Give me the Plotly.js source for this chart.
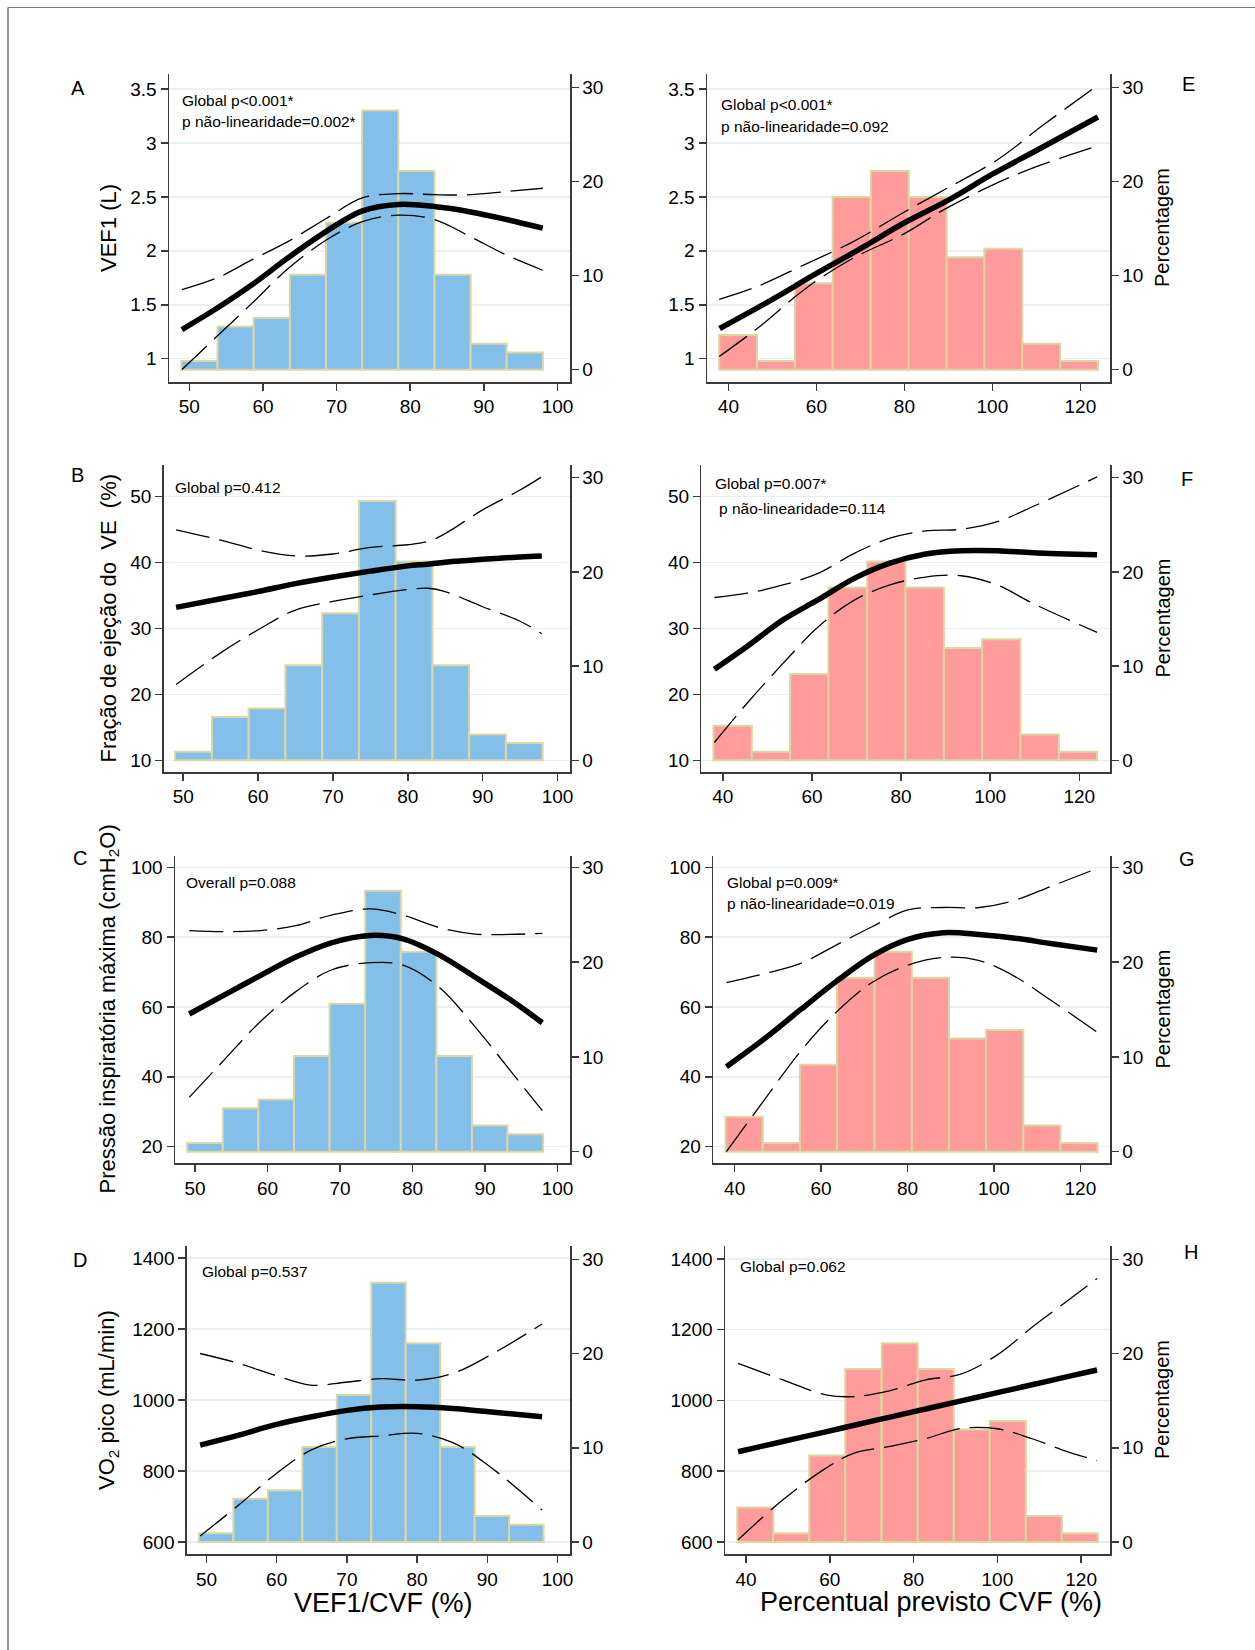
<!DOCTYPE html>
<html><head><meta charset="utf-8">
<script src="https://cdn.plot.ly/plotly-3.0.1.min.js"></script>
<style>html,body{margin:0;padding:0;background:#fff;} #chart{width:1255px;height:1650px;}</style>
</head><body><div id="chart"></div>
<script>
// ---------- histogram data (percentage of patients per bin) ----------
const leftBinCenters = [51.38, 56.29, 61.20, 66.11, 71.02, 75.93, 80.84, 85.75, 90.65, 95.56];
const leftBinWidth = 4.91;
const leftHistPct = [0.92, 4.59, 5.50, 10.09, 15.60, 27.52, 21.10, 10.09, 2.75, 1.83];
const rightBinCenters = [42.2, 50.8, 59.4, 68.0, 76.7, 85.3, 93.9, 102.5, 111.1, 119.7];
const rightBinWidth = 8.61;
const rightHistPct = [3.67, 0.92, 9.17, 18.35, 21.10, 18.35, 11.93, 12.84, 2.75, 0.92];

// ---------- spline fits with 95% CI ----------
// A: VEF1 vs VEF1/CVF
const xA   = [49.0, 53.8, 58.6, 63.5, 68.6, 73.5, 78.4, 83.3, 88.2, 93.1, 98.0];
const fitA = [1.27, 1.47, 1.69, 1.94, 2.18, 2.37, 2.43, 2.41, 2.36, 2.29, 2.21];
const upA  = [1.64, 1.75, 1.92, 2.09, 2.30, 2.49, 2.53, 2.52, 2.52, 2.55, 2.58];
const loA  = [0.90, 1.21, 1.52, 1.84, 2.10, 2.27, 2.33, 2.29, 2.13, 1.96, 1.82];
// E: VEF1 vs CVF % predicted
const xE   = [38.0, 50.0, 60.0, 70.0, 80.0, 90.0, 100.0, 110.0, 124.0];
const fitE = [1.28, 1.55, 1.79, 2.02, 2.26, 2.47, 2.71, 2.93, 3.24];
const xEup = [37.9, 46.6, 57.2, 68.6, 80.0, 89.7, 101.0, 111.7, 123.8];
const upE  = [1.55, 1.67, 1.87, 2.09, 2.36, 2.58, 2.84, 3.17, 3.53];
const xElo = [37.9, 47.5, 57.2, 67.8, 80.0, 88.9, 99.5, 110.0, 123.8];
const loE  = [1.02, 1.31, 1.64, 1.92, 2.16, 2.38, 2.60, 2.78, 2.97];
// B: LV ejection fraction vs VEF1/CVF
const xB   = [49.05, 55, 60, 65, 70, 75, 80, 82.7, 85, 90, 95, 97.9];
const fitB = [33.2, 34.5, 35.6, 36.8, 37.8, 38.7, 39.5, 39.75, 40.05, 40.5, 40.86, 41.0];
const upB  = [44.95, 43.4, 41.9, 41.0, 41.3, 42.3, 42.7, 43.2, 44.4, 48.0, 51.0, 53.0];
const loB  = [21.5, 26.3, 29.8, 32.8, 34.1, 35.1, 35.9, 36.1, 35.6, 33.3, 31.1, 29.2];
// F: LV ejection fraction vs CVF % predicted
const xF   = [38.1, 45.5, 53.5, 61.5, 69.5, 77.5, 85.5, 93.5, 101.6, 109.6, 124.0];
const fitF = [23.8, 27.3, 31.3, 34.4, 37.6, 39.9, 41.3, 41.8, 41.8, 41.5, 41.2];
const upF  = [34.7, 35.35, 36.6, 38.4, 41.4, 43.7, 44.8, 45.05, 46.2, 48.5, 53.0];
const loF  = [12.7, 18.7, 24.7, 30.3, 34.3, 36.6, 37.8, 38.0, 36.6, 33.8, 29.4];
// C: maximal inspiratory pressure vs VEF1/CVF
const xC   = [49.2, 54.0, 59.0, 63.9, 68.8, 74.2, 78.7, 83.6, 88.6, 93.4, 97.9];
const fitC = [58.0, 63.4, 69.0, 74.3, 78.4, 80.5, 79.5, 75.0, 68.6, 62.2, 55.5];
const upC  = [81.9, 81.6, 81.9, 83.3, 86.3, 88.1, 86.3, 82.8, 80.9, 80.8, 81.1];
const loC  = [34.1, 44.8, 55.8, 64.4, 70.6, 72.7, 72.0, 65.8, 54.4, 42.0, 30.3];
// G: maximal inspiratory pressure vs CVF % predicted
const xG   = [38.1, 47.0, 55.3, 63.6, 71.8, 80.1, 88.3, 96.6, 104.9, 113.1, 123.9];
const fitG = [42.9, 51.0, 59.3, 67.4, 74.6, 79.4, 81.3, 80.8, 79.7, 78.2, 76.3];
const upG  = [67.0, 69.6, 72.5, 77.8, 83.0, 87.8, 88.5, 88.5, 90.6, 94.5, 99.7];
const loG  = [18.6, 33.6, 47.4, 58.6, 67.0, 72.0, 74.2, 73.3, 68.7, 62.0, 52.8];
// D: peak VO2 vs VEF1/CVF
const xD   = [49.1, 54.6, 59.7, 64.8, 69.8, 74.9, 80.0, 85.1, 90.2, 97.8];
const fitD = [873, 901, 930, 952, 970, 980, 981, 976, 967, 953];
const upD  = [1131, 1103, 1070, 1042, 1050, 1060, 1056, 1075, 1124, 1214];
const loD  = [617, 704, 789, 858, 890, 899, 906, 880, 815, 690];
// H: peak VO2 vs CVF % predicted
const xH   = [38.1, 48.8, 59.0, 65.8, 74.4, 82.9, 91.4, 100.0, 108.5, 117.0, 123.8];
const fitH = [855, 884, 911, 930, 953, 976, 999, 1022, 1045, 1068, 1086];
const upH  = [1105, 1058, 1016, 1011, 1028, 1058, 1075, 1129, 1209, 1284, 1345];
const loH  = [606, 719, 808, 851, 870, 892, 921, 920, 891, 854, 830];

// ---------- labels ----------
const leftXTicks = [50, 60, 70, 80, 90, 100];
const rightXTicks = [40, 60, 80, 100, 120];
const pctTicks = [0, 10, 20, 30];
const ticksVEF1 = [1, 1.5, 2, 2.5, 3, 3.5];
const ticksFE = [10, 20, 30, 40, 50];
const ticksPImax = [20, 40, 60, 80, 100];
const ticksVO2 = [600, 800, 1000, 1200, 1400];

const yTitles = ['VEF1 (L)', 'Fração de ejeção do\u00a0 VE\u00a0 (%)',
  'Pressão inspiratória máxima (cmH<sub>2</sub>O)', 'VO<sub>2</sub> pico (mL/min)'];
const xTitles = ['VEF1/CVF (%)', 'Percentual previsto CVF (%)'];
const rightTitle = 'Percentagem';
const panelLetters = ['A', 'E', 'B', 'F', 'C', 'G', 'D', 'H'];
const statTexts = [
  ['Global p<0.001*', 'p não-linearidade=0.002*'],
  ['Global p<0.001*', 'p não-linearidade=0.092'],
  ['Global p=0.412'],
  ['Global p=0.007*', 'p não-linearidade=0.114'],
  ['Overall p=0.088'],
  ['Global p=0.009*', 'p não-linearidade=0.019'],
  ['Global p=0.537'],
  ['Global p=0.062']
];

// ---------- panel configuration (layout only) ----------
const W = 1255, H = 1650;
const px = v => v / W, py = v => 1 - v / H;
const panels = [
  {box:[169,570,74,382],   xr:[47.24,101.7],  yl:[0.784,3.639],  yr:[-1.31,31.41], right:false, fit:[xA,fitA], up:[xA,upA], lo:[xA,loA], yt:ticksVEF1,
   letter:[78,88], stat:[[179.6,100.7],[179.6,121.7]]},
  {box:[707,1110,74,382],  xr:[35.13,126.74], yl:[0.784,3.639],  yr:[-1.31,31.41], right:true,  fit:[xE,fitE], up:[xEup,upE], lo:[xElo,loE], yt:ticksVEF1,
   letter:[1188,84], stat:[[719.3,105],[719.3,126]]},
  {box:[163.6,570,465,772], xr:[47.38,101.67], yl:[8.23,54.8],   yr:[-1.24,31.34], right:false, fit:[xB,fitB], up:[xB,upB], lo:[xB,loB], yt:ticksFE,
   letter:[77,475], stat:[[172.5,487.3]]},
  {box:[701.4,1110,465,772], xr:[35.19,126.89], yl:[8.23,54.8],  yr:[-1.24,31.34], right:true,  fit:[xF,fitF], up:[xF,upF], lo:[xF,loF], yt:ticksFE,
   letter:[1187,479], stat:[[713.2,483.3],[716.5,508.3]]},
  {box:[175,570,855.7,1163.3], xr:[47.24,101.72], yl:[15.23,103.34], yr:[-1.23,31.23], right:false, fit:[xC,fitC], up:[xC,upC], lo:[xC,loC], yt:ticksPImax,
   letter:[80,858], stat:[[184,882.7]]},
  {box:[713.2,1110,855.7,1163.3], xr:[35.04,126.86], yl:[15.23,103.34], yr:[-1.23,31.23], right:true, fit:[xG,fitG], up:[xG,upG], lo:[xG,loG], yt:ticksPImax,
   letter:[1187,859], stat:[[724.6,882.7],[724.6,903.3]]},
  {box:[186.8,570,1245.7,1554.3], xr:[47.2,101.78], yl:[565.3,1434.7], yr:[-1.31,31.45], right:false, fit:[xD,fitD], up:[xD,upD], lo:[xD,loD], yt:ticksVO2,
   letter:[80,1260], stat:[[200,1271.7]]},
  {box:[725,1110,1245.7,1554.3], xr:[34.97,126.9], yl:[564.9,1437.7], yr:[-1.31,31.45], right:true, fit:[xH,fitH], up:[xH,upH], lo:[xH,loH], yt:ticksVO2,
   letter:[1191,1252], stat:[[737.5,1266.7]]}
];

const FONT = 'Liberation Sans, Arial, Helvetica, sans-serif';
const AXC = '#3a3a3a';
const TICKSIZE = 19;
const data = [];
const layout = {
  width: W, height: H, margin: {l:0, r:0, t:0, b:0},
  paper_bgcolor: '#fff', plot_bgcolor: 'rgba(0,0,0,0)',
  showlegend: false, font: {family: FONT, size: 18, color: '#000'},
  annotations: [], shapes: []
};

panels.forEach((p, i) => {
  const n = i + 1;
  const xid = 'x' + n, ybar = 'y' + (2*n - 1), yline = 'y' + (2*n);
  const xname = 'xaxis' + (n === 1 ? '' : n);
  const ybarName = 'yaxis' + (2*n - 1 === 1 ? '' : 2*n - 1);
  const ylineName = 'yaxis' + (2*n);
  const dom = [px(p.box[0]), px(p.box[1])];
  const ydom = [py(p.box[3]), py(p.box[2])];

  data.push({
    type: 'bar', x: p.right ? rightBinCenters : leftBinCenters,
    y: p.right ? rightHistPct : leftHistPct,
    width: p.right ? rightBinWidth : leftBinWidth,
    xaxis: xid, yaxis: ybar, hoverinfo: 'skip',
    marker: {color: p.right ? '#ff9b9b' : '#83bfe9', line: {color: '#dcd6a2', width: 2}}
  });
  const dash = {color: '#000', width: 1.3, dash: '34px,10px', shape: 'spline', smoothing: 1};
  data.push({type:'scatter', mode:'lines', x:p.up[0], y:p.up[1], xaxis:xid, yaxis:yline, line:dash, hoverinfo:'skip'});
  data.push({type:'scatter', mode:'lines', x:p.lo[0], y:p.lo[1], xaxis:xid, yaxis:yline, line:dash, hoverinfo:'skip'});
  data.push({type:'scatter', mode:'lines', x:p.fit[0], y:p.fit[1], xaxis:xid, yaxis:yline,
    line:{color:'#000', width:5.5, shape:'spline', smoothing:1}, hoverinfo:'skip'});

  const tickvalsX = p.right ? rightXTicks : leftXTicks;
  layout[xname] = {
    domain: dom, anchor: ybar, range: p.xr, tickvals: tickvalsX,
    ticktext: tickvalsX.map(String),
    showline: true, linecolor: AXC, linewidth: 1.5, ticks: 'outside', ticklen: 7,
    tickwidth: 1.5, tickcolor: AXC, showgrid: false, zeroline: false,
    tickfont: {size: TICKSIZE, family: FONT, color: '#000'}
  };
  layout[ybarName] = {
    domain: ydom, anchor: xid, side: 'right', range: p.yr, tickvals: pctTicks,
    ticktext: pctTicks.map(String),
    showline: true, linecolor: AXC, linewidth: 1.5, ticks: 'outside', ticklen: 7,
    tickwidth: 1.5, tickcolor: AXC, showgrid: false, zeroline: false,
    tickfont: {size: TICKSIZE, family: FONT, color: '#000'}
  };
  layout[ylineName] = {
    domain: ydom, anchor: xid, overlaying: ybar, side: 'left', range: p.yl,
    tickvals: p.yt, ticktext: p.yt.map(String),
    showline: true, linecolor: AXC, linewidth: 1.5, ticks: 'outside', ticklen: 7,
    tickwidth: 1.5, tickcolor: AXC, showgrid: true, gridcolor: '#e8f0f1', gridwidth: 1.5,
    zeroline: false, tickfont: {size: TICKSIZE, family: FONT, color: '#000'}
  };

  layout.annotations.push({xref:'paper', yref:'paper', x:px(p.letter[0]), y:py(p.letter[1]),
    text: panelLetters[i], showarrow:false, xanchor:'center', yanchor:'middle',
    font:{size:20, family:FONT, color:'#000'}});
  statTexts[i].forEach((t, k) => {
    layout.annotations.push({xref:'paper', yref:'paper', x:px(p.stat[k][0]), y:py(p.stat[k][1]),
      text: t, showarrow:false, xanchor:'left', yanchor:'middle',
      font:{size:15.5, family:FONT, color:'#000'}});
  });
  const yc = (p.box[2] + p.box[3]) / 2;
  if (!p.right) {
    layout.annotations.push({xref:'paper', yref:'paper', x:px(108), y:py(yc),
      text: yTitles[Math.floor(i/2)], showarrow:false, textangle:-90, xanchor:'center', yanchor:'middle',
      font:{size:22, family:FONT, color:'#000'}});
  } else {
    layout.annotations.push({xref:'paper', yref:'paper', x:px(1162), y:py(yc),
      text: rightTitle, showarrow:false, textangle:-90, xanchor:'center', yanchor:'middle',
      font:{size:20, family:FONT, color:'#000'}});
  }
});

layout.annotations.push({xref:'paper', yref:'paper', x:px(383), y:py(1603), text:xTitles[0],
  showarrow:false, xanchor:'center', yanchor:'middle', font:{size:27, family:FONT, color:'#000'}});
layout.annotations.push({xref:'paper', yref:'paper', x:px(931), y:py(1602), text:xTitles[1],
  showarrow:false, xanchor:'center', yanchor:'middle', font:{size:27, family:FONT, color:'#000'}});

// figure frame
layout.shapes.push({type:'line', xref:'paper', yref:'paper', x0:px(8), x1:1, y0:py(7.5), y1:py(7.5),
  line:{color:'#7a7a7a', width:1.2}});
layout.shapes.push({type:'line', xref:'paper', yref:'paper', x0:px(8), x1:px(8), y0:py(7.5), y1:0,
  line:{color:'#444', width:1.2}});

Plotly.newPlot('chart', data, layout, {staticPlot: true});
</script>
</body></html>
